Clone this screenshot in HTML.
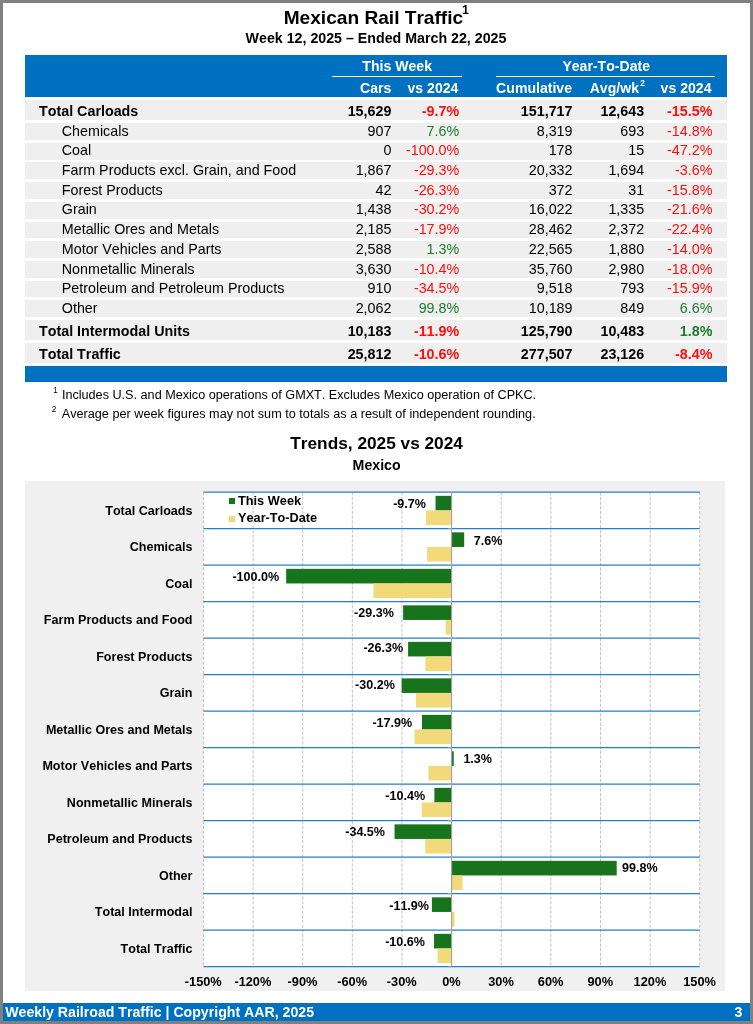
<!DOCTYPE html>
<html><head><meta charset="utf-8"><title>Mexican Rail Traffic</title>
<style>
html,body{margin:0;padding:0;}
body{width:753px;height:1024px;position:relative;overflow:hidden;background:#fff;font-family:"Liberation Sans",sans-serif;}
.t{position:absolute;white-space:nowrap;margin:0;padding:0;font-kerning:none;}
.b{position:absolute;}
#page{position:absolute;left:0;top:0;width:753px;height:1024px;will-change:transform;}
</style></head><body><div id="page">
<div class="b" style="left:0.00px;top:0.00px;width:753.00px;height:1024.00px;background:#808080;"></div>
<div class="b" style="left:3.00px;top:3.00px;width:747.00px;height:1018.00px;background:#fff;"></div>
<div class="t" style="top:7px;font-size:19.13px;line-height:21px;color:#000;font-weight:bold;left:173.45px;width:400px;text-align:center;">Mexican Rail Traffic</div>
<div class="t" style="top:3px;font-size:12.5px;line-height:14px;color:#000;font-weight:bold;left:462.10px;">1</div>
<div class="t" style="top:30px;font-size:14.22px;line-height:16px;color:#000;font-weight:bold;left:176.00px;width:400px;text-align:center;">Week 12, 2025 – Ended March 22, 2025</div>
<div class="b" style="left:25.00px;top:54.80px;width:701.80px;height:42.20px;background:#0070C0;"></div>
<div class="t" style="top:58px;font-size:14.08px;line-height:16px;color:#fff;font-weight:bold;left:197.20px;width:400px;text-align:center;">This Week</div>
<div class="b" style="left:332.10px;top:75.75px;width:129.60px;height:1.50px;background:#fff;"></div>
<div class="t" style="top:80px;font-size:14.08px;line-height:16px;color:#fff;font-weight:bold;right:361.60px;text-align:right;">Cars</div>
<div class="t" style="top:80px;font-size:14.08px;line-height:16px;color:#fff;font-weight:bold;right:294.60px;text-align:right;">vs 2024</div>
<div class="t" style="top:58px;font-size:14.08px;line-height:16px;color:#fff;font-weight:bold;left:406.20px;width:400px;text-align:center;">Year-To-Date</div>
<div class="b" style="left:495.50px;top:75.75px;width:219.50px;height:1.50px;background:#fff;"></div>
<div class="t" style="top:80px;font-size:14.08px;line-height:16px;color:#fff;font-weight:bold;right:181.00px;text-align:right;">Cumulative</div>
<div class="t" style="top:80px;font-size:14.08px;line-height:16px;color:#fff;font-weight:bold;right:114.00px;text-align:right;">Avg/wk</div>
<div class="t" style="top:78px;font-size:8.3px;line-height:10px;color:#fff;font-weight:bold;left:640.20px;">2</div>
<div class="t" style="top:80px;font-size:14.08px;line-height:16px;color:#fff;font-weight:bold;right:41.50px;text-align:right;">vs 2024</div>
<div class="b" style="left:25.00px;top:100.00px;width:701.80px;height:20.00px;background:#EFEFEF;"></div>
<div class="t" style="top:103px;font-size:14.3px;line-height:16px;color:#000;font-weight:bold;left:39.00px;">Total Carloads</div>
<div class="t" style="top:103px;font-size:14.3px;line-height:16px;color:#000;font-weight:bold;right:361.60px;text-align:right;">15,629</div>
<div class="t" style="top:103px;font-size:14.3px;line-height:16px;color:#FF0D0D;font-weight:bold;right:293.80px;text-align:right;">-9.7%</div>
<div class="t" style="top:103px;font-size:14.3px;line-height:16px;color:#000;font-weight:bold;right:180.50px;text-align:right;">151,717</div>
<div class="t" style="top:103px;font-size:14.3px;line-height:16px;color:#000;font-weight:bold;right:108.80px;text-align:right;">12,643</div>
<div class="t" style="top:103px;font-size:14.3px;line-height:16px;color:#FF0D0D;font-weight:bold;right:40.60px;text-align:right;">-15.5%</div>
<div class="b" style="left:25.00px;top:123.00px;width:701.80px;height:16.90px;background:#EFEFEF;"></div>
<div class="t" style="top:123px;font-size:14.3px;line-height:16px;color:#000;left:61.80px;">Chemicals</div>
<div class="t" style="top:123px;font-size:14.3px;line-height:16px;color:#000;right:361.60px;text-align:right;">907</div>
<div class="t" style="top:123px;font-size:14.3px;line-height:16px;color:#1E7B2C;right:293.80px;text-align:right;">7.6%</div>
<div class="t" style="top:123px;font-size:14.3px;line-height:16px;color:#000;right:180.50px;text-align:right;">8,319</div>
<div class="t" style="top:123px;font-size:14.3px;line-height:16px;color:#000;right:108.80px;text-align:right;">693</div>
<div class="t" style="top:123px;font-size:14.3px;line-height:16px;color:#FF0D0D;right:40.60px;text-align:right;">-14.8%</div>
<div class="b" style="left:25.00px;top:142.70px;width:701.80px;height:16.90px;background:#EFEFEF;"></div>
<div class="t" style="top:142px;font-size:14.3px;line-height:16px;color:#000;left:61.80px;">Coal</div>
<div class="t" style="top:142px;font-size:14.3px;line-height:16px;color:#000;right:361.60px;text-align:right;">0</div>
<div class="t" style="top:142px;font-size:14.3px;line-height:16px;color:#FF0D0D;right:293.80px;text-align:right;">-100.0%</div>
<div class="t" style="top:142px;font-size:14.3px;line-height:16px;color:#000;right:180.50px;text-align:right;">178</div>
<div class="t" style="top:142px;font-size:14.3px;line-height:16px;color:#000;right:108.80px;text-align:right;">15</div>
<div class="t" style="top:142px;font-size:14.3px;line-height:16px;color:#FF0D0D;right:40.60px;text-align:right;">-47.2%</div>
<div class="b" style="left:25.00px;top:162.40px;width:701.80px;height:16.90px;background:#EFEFEF;"></div>
<div class="t" style="top:162px;font-size:14.3px;line-height:16px;color:#000;left:61.80px;">Farm Products excl. Grain, and Food</div>
<div class="t" style="top:162px;font-size:14.3px;line-height:16px;color:#000;right:361.60px;text-align:right;">1,867</div>
<div class="t" style="top:162px;font-size:14.3px;line-height:16px;color:#FF0D0D;right:293.80px;text-align:right;">-29.3%</div>
<div class="t" style="top:162px;font-size:14.3px;line-height:16px;color:#000;right:180.50px;text-align:right;">20,332</div>
<div class="t" style="top:162px;font-size:14.3px;line-height:16px;color:#000;right:108.80px;text-align:right;">1,694</div>
<div class="t" style="top:162px;font-size:14.3px;line-height:16px;color:#FF0D0D;right:40.60px;text-align:right;">-3.6%</div>
<div class="b" style="left:25.00px;top:182.10px;width:701.80px;height:16.90px;background:#EFEFEF;"></div>
<div class="t" style="top:182px;font-size:14.3px;line-height:16px;color:#000;left:61.80px;">Forest Products</div>
<div class="t" style="top:182px;font-size:14.3px;line-height:16px;color:#000;right:361.60px;text-align:right;">42</div>
<div class="t" style="top:182px;font-size:14.3px;line-height:16px;color:#FF0D0D;right:293.80px;text-align:right;">-26.3%</div>
<div class="t" style="top:182px;font-size:14.3px;line-height:16px;color:#000;right:180.50px;text-align:right;">372</div>
<div class="t" style="top:182px;font-size:14.3px;line-height:16px;color:#000;right:108.80px;text-align:right;">31</div>
<div class="t" style="top:182px;font-size:14.3px;line-height:16px;color:#FF0D0D;right:40.60px;text-align:right;">-15.8%</div>
<div class="b" style="left:25.00px;top:201.80px;width:701.80px;height:16.90px;background:#EFEFEF;"></div>
<div class="t" style="top:201px;font-size:14.3px;line-height:16px;color:#000;left:61.80px;">Grain</div>
<div class="t" style="top:201px;font-size:14.3px;line-height:16px;color:#000;right:361.60px;text-align:right;">1,438</div>
<div class="t" style="top:201px;font-size:14.3px;line-height:16px;color:#FF0D0D;right:293.80px;text-align:right;">-30.2%</div>
<div class="t" style="top:201px;font-size:14.3px;line-height:16px;color:#000;right:180.50px;text-align:right;">16,022</div>
<div class="t" style="top:201px;font-size:14.3px;line-height:16px;color:#000;right:108.80px;text-align:right;">1,335</div>
<div class="t" style="top:201px;font-size:14.3px;line-height:16px;color:#FF0D0D;right:40.60px;text-align:right;">-21.6%</div>
<div class="b" style="left:25.00px;top:221.50px;width:701.80px;height:16.90px;background:#EFEFEF;"></div>
<div class="t" style="top:221px;font-size:14.3px;line-height:16px;color:#000;left:61.80px;">Metallic Ores and Metals</div>
<div class="t" style="top:221px;font-size:14.3px;line-height:16px;color:#000;right:361.60px;text-align:right;">2,185</div>
<div class="t" style="top:221px;font-size:14.3px;line-height:16px;color:#FF0D0D;right:293.80px;text-align:right;">-17.9%</div>
<div class="t" style="top:221px;font-size:14.3px;line-height:16px;color:#000;right:180.50px;text-align:right;">28,462</div>
<div class="t" style="top:221px;font-size:14.3px;line-height:16px;color:#000;right:108.80px;text-align:right;">2,372</div>
<div class="t" style="top:221px;font-size:14.3px;line-height:16px;color:#FF0D0D;right:40.60px;text-align:right;">-22.4%</div>
<div class="b" style="left:25.00px;top:241.20px;width:701.80px;height:16.90px;background:#EFEFEF;"></div>
<div class="t" style="top:241px;font-size:14.3px;line-height:16px;color:#000;left:61.80px;">Motor Vehicles and Parts</div>
<div class="t" style="top:241px;font-size:14.3px;line-height:16px;color:#000;right:361.60px;text-align:right;">2,588</div>
<div class="t" style="top:241px;font-size:14.3px;line-height:16px;color:#1E7B2C;right:293.80px;text-align:right;">1.3%</div>
<div class="t" style="top:241px;font-size:14.3px;line-height:16px;color:#000;right:180.50px;text-align:right;">22,565</div>
<div class="t" style="top:241px;font-size:14.3px;line-height:16px;color:#000;right:108.80px;text-align:right;">1,880</div>
<div class="t" style="top:241px;font-size:14.3px;line-height:16px;color:#FF0D0D;right:40.60px;text-align:right;">-14.0%</div>
<div class="b" style="left:25.00px;top:260.90px;width:701.80px;height:16.90px;background:#EFEFEF;"></div>
<div class="t" style="top:261px;font-size:14.3px;line-height:16px;color:#000;left:61.80px;">Nonmetallic Minerals</div>
<div class="t" style="top:261px;font-size:14.3px;line-height:16px;color:#000;right:361.60px;text-align:right;">3,630</div>
<div class="t" style="top:261px;font-size:14.3px;line-height:16px;color:#FF0D0D;right:293.80px;text-align:right;">-10.4%</div>
<div class="t" style="top:261px;font-size:14.3px;line-height:16px;color:#000;right:180.50px;text-align:right;">35,760</div>
<div class="t" style="top:261px;font-size:14.3px;line-height:16px;color:#000;right:108.80px;text-align:right;">2,980</div>
<div class="t" style="top:261px;font-size:14.3px;line-height:16px;color:#FF0D0D;right:40.60px;text-align:right;">-18.0%</div>
<div class="b" style="left:25.00px;top:280.60px;width:701.80px;height:16.90px;background:#EFEFEF;"></div>
<div class="t" style="top:280px;font-size:14.3px;line-height:16px;color:#000;left:61.80px;">Petroleum and Petroleum Products</div>
<div class="t" style="top:280px;font-size:14.3px;line-height:16px;color:#000;right:361.60px;text-align:right;">910</div>
<div class="t" style="top:280px;font-size:14.3px;line-height:16px;color:#FF0D0D;right:293.80px;text-align:right;">-34.5%</div>
<div class="t" style="top:280px;font-size:14.3px;line-height:16px;color:#000;right:180.50px;text-align:right;">9,518</div>
<div class="t" style="top:280px;font-size:14.3px;line-height:16px;color:#000;right:108.80px;text-align:right;">793</div>
<div class="t" style="top:280px;font-size:14.3px;line-height:16px;color:#FF0D0D;right:40.60px;text-align:right;">-15.9%</div>
<div class="b" style="left:25.00px;top:300.30px;width:701.80px;height:16.90px;background:#EFEFEF;"></div>
<div class="t" style="top:300px;font-size:14.3px;line-height:16px;color:#000;left:61.80px;">Other</div>
<div class="t" style="top:300px;font-size:14.3px;line-height:16px;color:#000;right:361.60px;text-align:right;">2,062</div>
<div class="t" style="top:300px;font-size:14.3px;line-height:16px;color:#1E7B2C;right:293.80px;text-align:right;">99.8%</div>
<div class="t" style="top:300px;font-size:14.3px;line-height:16px;color:#000;right:180.50px;text-align:right;">10,189</div>
<div class="t" style="top:300px;font-size:14.3px;line-height:16px;color:#000;right:108.80px;text-align:right;">849</div>
<div class="t" style="top:300px;font-size:14.3px;line-height:16px;color:#1E7B2C;right:40.60px;text-align:right;">6.6%</div>
<div class="b" style="left:25.00px;top:320.20px;width:701.80px;height:19.85px;background:#EFEFEF;"></div>
<div class="t" style="top:323px;font-size:14.3px;line-height:16px;color:#000;font-weight:bold;left:39.00px;">Total Intermodal Units</div>
<div class="t" style="top:323px;font-size:14.3px;line-height:16px;color:#000;font-weight:bold;right:361.60px;text-align:right;">10,183</div>
<div class="t" style="top:323px;font-size:14.3px;line-height:16px;color:#FF0D0D;font-weight:bold;right:293.80px;text-align:right;">-11.9%</div>
<div class="t" style="top:323px;font-size:14.3px;line-height:16px;color:#000;font-weight:bold;right:180.50px;text-align:right;">125,790</div>
<div class="t" style="top:323px;font-size:14.3px;line-height:16px;color:#000;font-weight:bold;right:108.80px;text-align:right;">10,483</div>
<div class="t" style="top:323px;font-size:14.3px;line-height:16px;color:#1E7B2C;font-weight:bold;right:40.60px;text-align:right;">1.8%</div>
<div class="b" style="left:25.00px;top:343.00px;width:701.80px;height:20.15px;background:#EFEFEF;"></div>
<div class="t" style="top:346px;font-size:14.3px;line-height:16px;color:#000;font-weight:bold;left:39.00px;">Total Traffic</div>
<div class="t" style="top:346px;font-size:14.3px;line-height:16px;color:#000;font-weight:bold;right:361.60px;text-align:right;">25,812</div>
<div class="t" style="top:346px;font-size:14.3px;line-height:16px;color:#FF0D0D;font-weight:bold;right:293.80px;text-align:right;">-10.6%</div>
<div class="t" style="top:346px;font-size:14.3px;line-height:16px;color:#000;font-weight:bold;right:180.50px;text-align:right;">277,507</div>
<div class="t" style="top:346px;font-size:14.3px;line-height:16px;color:#000;font-weight:bold;right:108.80px;text-align:right;">23,126</div>
<div class="t" style="top:346px;font-size:14.3px;line-height:16px;color:#FF0D0D;font-weight:bold;right:40.60px;text-align:right;">-8.4%</div>
<div class="b" style="left:25.00px;top:366.30px;width:701.80px;height:15.45px;background:#0070C0;"></div>
<div class="t" style="top:386px;font-size:8.2px;line-height:9px;color:#000;left:53.20px;">1</div>
<div class="t" style="top:388px;font-size:12.65px;line-height:14px;color:#000;left:61.90px;">Includes U.S. and Mexico operations of GMXT. Excludes Mexico operation of CPKC.</div>
<div class="t" style="top:405px;font-size:8.2px;line-height:9px;color:#000;left:51.70px;">2</div>
<div class="t" style="top:407px;font-size:12.65px;line-height:14px;color:#000;left:61.70px;letter-spacing:0.022px;">Average per week figures may not sum to totals as a result of independent rounding.</div>
<div class="t" style="top:433px;font-size:17.25px;line-height:20px;color:#000;font-weight:bold;left:176.60px;width:400px;text-align:center;">Trends, 2025 vs 2024</div>
<div class="t" style="top:457px;font-size:14.16px;line-height:16px;color:#000;font-weight:bold;left:176.60px;width:400px;text-align:center;">Mexico</div>
<div class="b" style="left:24.60px;top:481.30px;width:700.50px;height:510.00px;background:#F0F0F0;"></div>
<div class="b" style="left:203.45px;top:492.20px;width:496.30px;height:474.50px;background:#fff;"></div>
<svg class="b" style="left:0;top:0" width="753" height="1024" viewBox="0 0 753 1024"><line x1="203.45" y1="492.20" x2="203.45" y2="966.70" stroke="#C3C3C3" stroke-width="1" stroke-dasharray="3.2 1.5"/><line x1="253.08" y1="492.20" x2="253.08" y2="966.70" stroke="#C3C3C3" stroke-width="1" stroke-dasharray="3.2 1.5"/><line x1="302.71" y1="492.20" x2="302.71" y2="966.70" stroke="#C3C3C3" stroke-width="1" stroke-dasharray="3.2 1.5"/><line x1="352.34" y1="492.20" x2="352.34" y2="966.70" stroke="#C3C3C3" stroke-width="1" stroke-dasharray="3.2 1.5"/><line x1="401.97" y1="492.20" x2="401.97" y2="966.70" stroke="#C3C3C3" stroke-width="1" stroke-dasharray="3.2 1.5"/><line x1="501.23" y1="492.20" x2="501.23" y2="966.70" stroke="#C3C3C3" stroke-width="1" stroke-dasharray="3.2 1.5"/><line x1="550.86" y1="492.20" x2="550.86" y2="966.70" stroke="#C3C3C3" stroke-width="1" stroke-dasharray="3.2 1.5"/><line x1="600.49" y1="492.20" x2="600.49" y2="966.70" stroke="#C3C3C3" stroke-width="1" stroke-dasharray="3.2 1.5"/><line x1="650.12" y1="492.20" x2="650.12" y2="966.70" stroke="#C3C3C3" stroke-width="1" stroke-dasharray="3.2 1.5"/><line x1="699.75" y1="492.20" x2="699.75" y2="966.70" stroke="#C3C3C3" stroke-width="1" stroke-dasharray="3.2 1.5"/><rect x="435.55" y="495.85" width="16.05" height="14.6" fill="#17741C"/><rect x="425.96" y="510.45" width="25.64" height="14.6" fill="#F2D97A"/><rect x="451.60" y="532.35" width="12.57" height="14.6" fill="#17741C"/><rect x="427.12" y="546.95" width="24.48" height="14.6" fill="#F2D97A"/><rect x="286.17" y="568.85" width="165.43" height="14.6" fill="#17741C"/><rect x="373.52" y="583.45" width="78.08" height="14.6" fill="#F2D97A"/><rect x="403.13" y="605.35" width="48.47" height="14.6" fill="#17741C"/><rect x="445.64" y="619.95" width="5.96" height="14.6" fill="#F2D97A"/><rect x="408.09" y="641.85" width="43.51" height="14.6" fill="#17741C"/><rect x="425.46" y="656.45" width="26.14" height="14.6" fill="#F2D97A"/><rect x="401.64" y="678.35" width="49.96" height="14.6" fill="#17741C"/><rect x="415.87" y="692.95" width="35.73" height="14.6" fill="#F2D97A"/><rect x="421.99" y="714.85" width="29.61" height="14.6" fill="#17741C"/><rect x="414.54" y="729.45" width="37.06" height="14.6" fill="#F2D97A"/><rect x="451.60" y="751.35" width="2.15" height="14.6" fill="#17741C"/><rect x="428.44" y="765.95" width="23.16" height="14.6" fill="#F2D97A"/><rect x="434.39" y="787.85" width="17.21" height="14.6" fill="#17741C"/><rect x="421.82" y="802.45" width="29.78" height="14.6" fill="#F2D97A"/><rect x="394.53" y="824.35" width="57.07" height="14.6" fill="#17741C"/><rect x="425.30" y="838.95" width="26.30" height="14.6" fill="#F2D97A"/><rect x="451.60" y="860.85" width="165.10" height="14.6" fill="#17741C"/><rect x="451.60" y="875.45" width="10.92" height="14.6" fill="#F2D97A"/><rect x="431.91" y="897.35" width="19.69" height="14.6" fill="#17741C"/><rect x="451.60" y="911.95" width="2.98" height="14.6" fill="#F2D97A"/><rect x="434.06" y="933.85" width="17.54" height="14.6" fill="#17741C"/><rect x="437.70" y="948.45" width="13.90" height="14.6" fill="#F2D97A"/><line x1="203.45" y1="492.20" x2="699.75" y2="492.20" stroke="#267ECB" stroke-width="1.25"/><line x1="448.00" y1="492.20" x2="451.60" y2="492.20" stroke="#A6A6A6" stroke-width="1.1"/><line x1="203.45" y1="528.70" x2="699.75" y2="528.70" stroke="#267ECB" stroke-width="1.25"/><line x1="448.00" y1="528.70" x2="451.60" y2="528.70" stroke="#A6A6A6" stroke-width="1.1"/><line x1="203.45" y1="565.20" x2="699.75" y2="565.20" stroke="#267ECB" stroke-width="1.25"/><line x1="448.00" y1="565.20" x2="451.60" y2="565.20" stroke="#A6A6A6" stroke-width="1.1"/><line x1="203.45" y1="601.70" x2="699.75" y2="601.70" stroke="#267ECB" stroke-width="1.25"/><line x1="448.00" y1="601.70" x2="451.60" y2="601.70" stroke="#A6A6A6" stroke-width="1.1"/><line x1="203.45" y1="638.20" x2="699.75" y2="638.20" stroke="#267ECB" stroke-width="1.25"/><line x1="448.00" y1="638.20" x2="451.60" y2="638.20" stroke="#A6A6A6" stroke-width="1.1"/><line x1="203.45" y1="674.70" x2="699.75" y2="674.70" stroke="#267ECB" stroke-width="1.25"/><line x1="448.00" y1="674.70" x2="451.60" y2="674.70" stroke="#A6A6A6" stroke-width="1.1"/><line x1="203.45" y1="711.20" x2="699.75" y2="711.20" stroke="#267ECB" stroke-width="1.25"/><line x1="448.00" y1="711.20" x2="451.60" y2="711.20" stroke="#A6A6A6" stroke-width="1.1"/><line x1="203.45" y1="747.70" x2="699.75" y2="747.70" stroke="#267ECB" stroke-width="1.25"/><line x1="448.00" y1="747.70" x2="451.60" y2="747.70" stroke="#A6A6A6" stroke-width="1.1"/><line x1="203.45" y1="784.20" x2="699.75" y2="784.20" stroke="#267ECB" stroke-width="1.25"/><line x1="448.00" y1="784.20" x2="451.60" y2="784.20" stroke="#A6A6A6" stroke-width="1.1"/><line x1="203.45" y1="820.70" x2="699.75" y2="820.70" stroke="#267ECB" stroke-width="1.25"/><line x1="448.00" y1="820.70" x2="451.60" y2="820.70" stroke="#A6A6A6" stroke-width="1.1"/><line x1="203.45" y1="857.20" x2="699.75" y2="857.20" stroke="#267ECB" stroke-width="1.25"/><line x1="448.00" y1="857.20" x2="451.60" y2="857.20" stroke="#A6A6A6" stroke-width="1.1"/><line x1="203.45" y1="893.70" x2="699.75" y2="893.70" stroke="#267ECB" stroke-width="1.25"/><line x1="448.00" y1="893.70" x2="451.60" y2="893.70" stroke="#A6A6A6" stroke-width="1.1"/><line x1="203.45" y1="930.20" x2="699.75" y2="930.20" stroke="#267ECB" stroke-width="1.25"/><line x1="448.00" y1="930.20" x2="451.60" y2="930.20" stroke="#A6A6A6" stroke-width="1.1"/><line x1="203.45" y1="966.70" x2="699.75" y2="966.70" stroke="#267ECB" stroke-width="1.25"/><line x1="448.00" y1="966.70" x2="451.60" y2="966.70" stroke="#A6A6A6" stroke-width="1.1"/><line x1="451.60" y1="492.20" x2="451.60" y2="966.70" stroke="#A0A0A0" stroke-width="1.1"/></svg>
<div class="b" style="left:229.10px;top:498.20px;width:6.20px;height:6.30px;background:#17741C;"></div>
<div class="b" style="left:229.10px;top:515.50px;width:6.20px;height:6.40px;background:#F2D97A;"></div>
<div class="t" style="top:493px;font-size:12.75px;line-height:15px;color:#000;font-weight:bold;left:238.00px;">This Week</div>
<div class="t" style="top:510px;font-size:12.72px;line-height:15px;color:#000;font-weight:bold;left:238.00px;">Year-To-Date</div>
<div class="t" style="top:504px;font-size:12.57px;line-height:14px;color:#000;font-weight:bold;right:560.50px;text-align:right;">Total Carloads</div>
<div class="t" style="top:540px;font-size:12.57px;line-height:14px;color:#000;font-weight:bold;right:560.50px;text-align:right;">Chemicals</div>
<div class="t" style="top:577px;font-size:12.57px;line-height:14px;color:#000;font-weight:bold;right:560.50px;text-align:right;">Coal</div>
<div class="t" style="top:613px;font-size:12.57px;line-height:14px;color:#000;font-weight:bold;right:560.50px;text-align:right;">Farm Products and Food</div>
<div class="t" style="top:650px;font-size:12.57px;line-height:14px;color:#000;font-weight:bold;right:560.50px;text-align:right;">Forest Products</div>
<div class="t" style="top:686px;font-size:12.57px;line-height:14px;color:#000;font-weight:bold;right:560.50px;text-align:right;">Grain</div>
<div class="t" style="top:723px;font-size:12.57px;line-height:14px;color:#000;font-weight:bold;right:560.50px;text-align:right;">Metallic Ores and Metals</div>
<div class="t" style="top:759px;font-size:12.57px;line-height:14px;color:#000;font-weight:bold;right:560.50px;text-align:right;">Motor Vehicles and Parts</div>
<div class="t" style="top:796px;font-size:12.57px;line-height:14px;color:#000;font-weight:bold;right:560.50px;text-align:right;">Nonmetallic Minerals</div>
<div class="t" style="top:832px;font-size:12.57px;line-height:14px;color:#000;font-weight:bold;right:560.50px;text-align:right;">Petroleum and Products</div>
<div class="t" style="top:869px;font-size:12.57px;line-height:14px;color:#000;font-weight:bold;right:560.50px;text-align:right;">Other</div>
<div class="t" style="top:905px;font-size:12.57px;line-height:14px;color:#000;font-weight:bold;right:560.50px;text-align:right;">Total Intermodal</div>
<div class="t" style="top:942px;font-size:12.57px;line-height:14px;color:#000;font-weight:bold;right:560.50px;text-align:right;">Total Traffic</div>
<div class="t" style="top:497px;font-size:12.55px;line-height:14px;color:#000;font-weight:bold;right:327.10px;text-align:right;">-9.7%</div>
<div class="t" style="top:534px;font-size:12.55px;line-height:14px;color:#000;font-weight:bold;left:473.70px;">7.6%</div>
<div class="t" style="top:570px;font-size:12.55px;line-height:14px;color:#000;font-weight:bold;right:473.90px;text-align:right;">-100.0%</div>
<div class="t" style="top:606px;font-size:12.55px;line-height:14px;color:#000;font-weight:bold;right:359.20px;text-align:right;">-29.3%</div>
<div class="t" style="top:641px;font-size:12.55px;line-height:14px;color:#000;font-weight:bold;right:349.80px;text-align:right;">-26.3%</div>
<div class="t" style="top:678px;font-size:12.55px;line-height:14px;color:#000;font-weight:bold;right:358.20px;text-align:right;">-30.2%</div>
<div class="t" style="top:716px;font-size:12.55px;line-height:14px;color:#000;font-weight:bold;right:340.80px;text-align:right;">-17.9%</div>
<div class="t" style="top:752px;font-size:12.55px;line-height:14px;color:#000;font-weight:bold;left:463.40px;">1.3%</div>
<div class="t" style="top:789px;font-size:12.55px;line-height:14px;color:#000;font-weight:bold;right:327.90px;text-align:right;">-10.4%</div>
<div class="t" style="top:825px;font-size:12.55px;line-height:14px;color:#000;font-weight:bold;right:368.00px;text-align:right;">-34.5%</div>
<div class="t" style="top:861px;font-size:12.55px;line-height:14px;color:#000;font-weight:bold;left:622.00px;">99.8%</div>
<div class="t" style="top:899px;font-size:12.55px;line-height:14px;color:#000;font-weight:bold;right:324.00px;text-align:right;">-11.9%</div>
<div class="t" style="top:935px;font-size:12.55px;line-height:14px;color:#000;font-weight:bold;right:328.10px;text-align:right;">-10.6%</div>
<div class="t" style="top:974px;font-size:12.8px;line-height:15px;color:#000;font-weight:bold;left:3.25px;width:400px;text-align:center;">-150%</div>
<div class="t" style="top:974px;font-size:12.8px;line-height:15px;color:#000;font-weight:bold;left:52.88px;width:400px;text-align:center;">-120%</div>
<div class="t" style="top:974px;font-size:12.8px;line-height:15px;color:#000;font-weight:bold;left:102.51px;width:400px;text-align:center;">-90%</div>
<div class="t" style="top:974px;font-size:12.8px;line-height:15px;color:#000;font-weight:bold;left:152.14px;width:400px;text-align:center;">-60%</div>
<div class="t" style="top:974px;font-size:12.8px;line-height:15px;color:#000;font-weight:bold;left:201.77px;width:400px;text-align:center;">-30%</div>
<div class="t" style="top:974px;font-size:12.8px;line-height:15px;color:#000;font-weight:bold;left:251.40px;width:400px;text-align:center;">0%</div>
<div class="t" style="top:974px;font-size:12.8px;line-height:15px;color:#000;font-weight:bold;left:301.03px;width:400px;text-align:center;">30%</div>
<div class="t" style="top:974px;font-size:12.8px;line-height:15px;color:#000;font-weight:bold;left:350.66px;width:400px;text-align:center;">60%</div>
<div class="t" style="top:974px;font-size:12.8px;line-height:15px;color:#000;font-weight:bold;left:400.29px;width:400px;text-align:center;">90%</div>
<div class="t" style="top:974px;font-size:12.8px;line-height:15px;color:#000;font-weight:bold;left:449.92px;width:400px;text-align:center;">120%</div>
<div class="t" style="top:974px;font-size:12.8px;line-height:15px;color:#000;font-weight:bold;left:499.55px;width:400px;text-align:center;">150%</div>
<div class="b" style="left:3.00px;top:1003.05px;width:746.50px;height:18.05px;background:#0070C0;"></div>
<div class="t" style="top:1004px;font-size:14.15px;line-height:16px;color:#fff;font-weight:bold;left:5.20px;">Weekly Railroad Traffic | Copyright AAR, 2025</div>
<div class="t" style="top:1004px;font-size:14.2px;line-height:16px;color:#fff;font-weight:bold;right:10.70px;text-align:right;">3</div>
</div></body></html>
